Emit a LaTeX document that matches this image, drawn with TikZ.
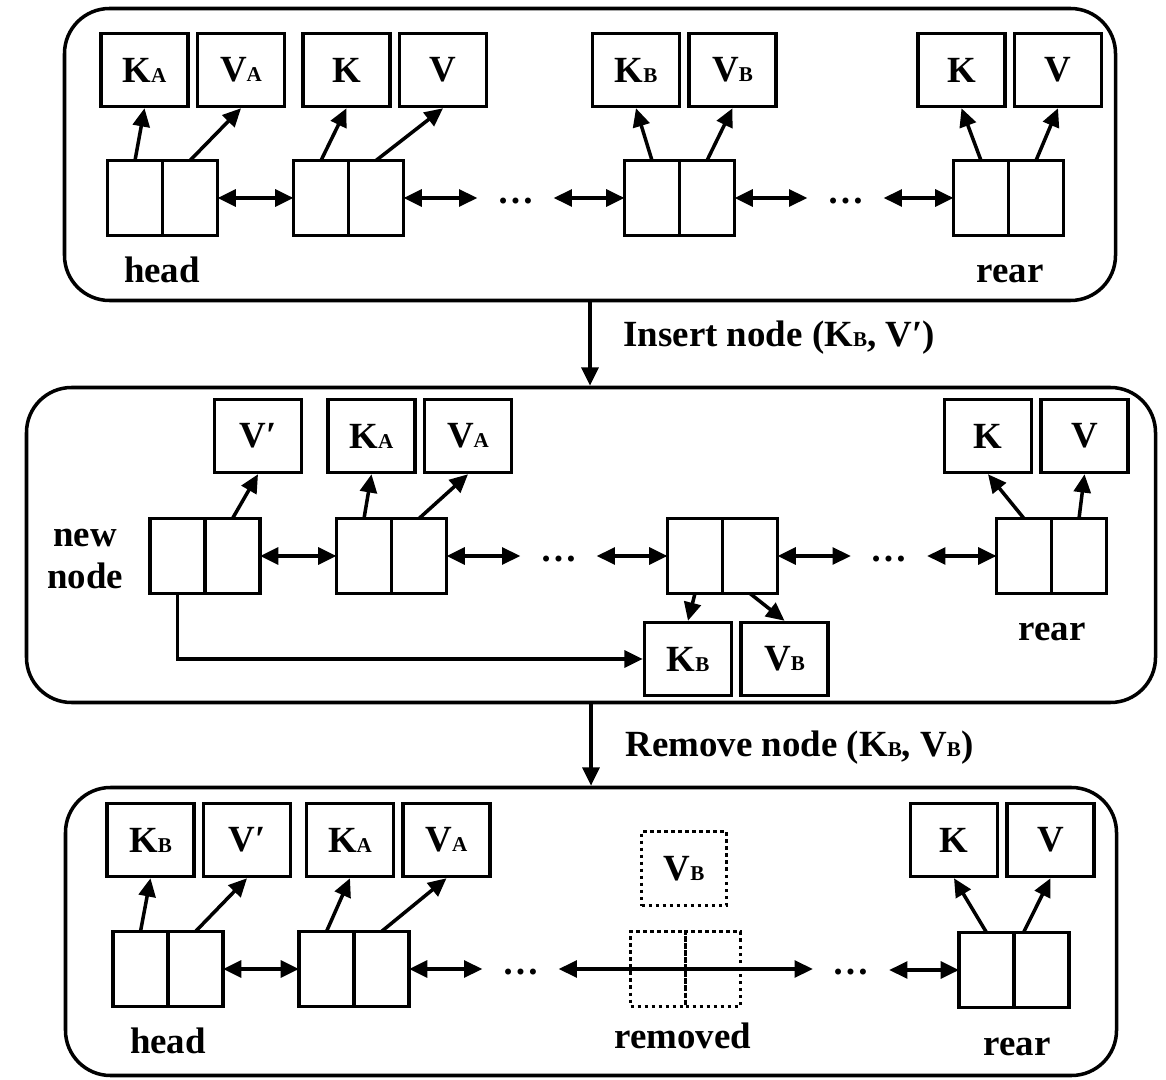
\documentclass[tikz,border=0pt]{standalone}
\usepackage{fontspec}
\setmainfont{Liberation Serif}
\usetikzlibrary{positioning,arrows.meta}
\newcommand{\kvsub}[1]{{\fontsize{6}{6}\selectfont #1}}

\begin{document}
\begin{tikzpicture}[font=\fontsize{10.5}{12.2}\selectfont\bfseries,
  cell/.style={draw,line width=1pt,minimum width=0.55cm,minimum height=0.75cm,inner sep=0pt,outer sep=0pt},
  kvbox/.style={draw,line width=1pt,minimum width=0.87cm,minimum height=0.73cm,inner sep=0pt},
  gone/.style={dash pattern=on 1pt off 1pt},
  panel/.style={draw,line width=1pt,rounded corners=0.45cm,inner sep=0pt},
  dotsnode/.style={minimum width=0.75cm,inner sep=0pt},
  link/.style={line width=1pt,{Triangle[length=5.2pt,width=4.8pt]}-{Triangle[length=5.2pt,width=4.8pt]}},
  ptr/.style={line width=1pt,-{Triangle[length=5.2pt,width=4.8pt]}}]
\useasboundingbox (0,0) rectangle (11.66,10.79);

% list before insert
\node[panel,minimum width=10.51cm,minimum height=2.92cm] (lst1) at (5.90,9.245) {};
\node[kvbox] (ka1) at (1.445,10.09) {K\kvsub{A}};
\node[kvbox,right=0.06cm of ka1] (va1) {V\kvsub{A}};
\node[kvbox] (k1) at (3.465,10.09) {K};
\node[kvbox,right=0.06cm of k1] (v1) {V};
\node[kvbox] (kb1) at (6.36,10.09) {K\kvsub{B}};
\node[kvbox,right=0.06cm of kb1] (vb1) {V\kvsub{B}};
\node[kvbox] (k2) at (9.615,10.09) {K};
\node[kvbox,right=0.06cm of k2] (v2) {V};
\node[cell] (n1a) at (1.35,8.81) {};
\node[cell,right=0pt of n1a] (n1b) {};
\node[cell] (n2a) at (3.21,8.81) {};
\node[cell,right=0pt of n2a] (n2b) {};
\node[cell] (n3a) at (6.52,8.81) {};
\node[cell,right=0pt of n3a] (n3b) {};
\node[cell] (n4a) at (9.81,8.81) {};
\node[cell,right=0pt of n4a] (n4b) {};
\node[dotsnode] (d1) at (5.155,8.78) {…};
\node[dotsnode] (d2) at (8.455,8.78) {…};
\node[anchor=base] (head1) at (1.62,7.96) {head};
\node[anchor=base] (rear1) at (10.10,7.96) {rear};
\draw[ptr] (n1a.north) -- (ka1.south);
\draw[ptr] (n1b.north) -- (va1.south);
\draw[ptr] (n2a.north) -- (k1.south);
\draw[ptr] (n2b.north) -- (v1.south);
\draw[ptr] (n3a.north) -- (kb1.south);
\draw[ptr] (n3b.north) -- (vb1.south);
\draw[ptr] (n4a.north) -- (k2.south);
\draw[ptr] (n4b.north) -- (v2.south);
\draw[link] (n1b) -- (n2a);
\draw[link] (n2b.east) -- (n2b.east -| d1.west);
\draw[link] (n3a.west -| d1.east) -- (n3a.west);
\draw[link] (n3b.east) -- (n3b.east -| d2.west);
\draw[link] (n4a.west -| d2.east) -- (n4a.west);

% list after insert
\node[panel,minimum width=11.29cm,minimum height=3.15cm] (lst2) at (5.91,5.34) {};
\draw[ptr] (lst1.south) -- (lst1.south |- lst2.north);
\node[anchor=base west] (ins) at (6.11,7.32) {Insert node (K\kvsub{B}, V′)};
\node[kvbox] (vp2) at (2.58,6.43) {V′};
\node[kvbox] (ka2) at (3.715,6.43) {K\kvsub{A}};
\node[kvbox,right=0.06cm of ka2] (va2) {V\kvsub{A}};
\node[kvbox] (k3) at (9.88,6.43) {K};
\node[kvbox,right=0.06cm of k3] (v3) {V};
\node[cell] (n5a) at (1.775,5.23) {};
\node[cell,right=0pt of n5a] (n5b) {};
\node[cell] (n6a) at (3.64,5.23) {};
\node[cell,right=0pt of n6a] (n6b) {};
\node[cell] (n7a) at (6.95,5.23) {};
\node[cell,right=0pt of n7a] (n7b) {};
\node[cell] (n8a) at (10.24,5.23) {};
\node[cell,right=0pt of n8a] (n8b) {};
\node[dotsnode] (d3) at (5.585,5.20) {…};
\node[dotsnode] (d4) at (8.89,5.20) {…};
\node[kvbox] (kb2) at (6.88,4.20) {K\kvsub{B}};
\node[kvbox,right=0.06cm of kb2] (vb2) {V\kvsub{B}};
\node[align=center] (newlbl) at (0.85,5.20) {new\\node};
\node[anchor=base] (rear2) at (10.52,4.39) {rear};
\draw[ptr] (n5b.north) -- (vp2.south);
\draw[ptr] (n6a.north) -- (ka2.south);
\draw[ptr] (n6b.north) -- (va2.south);
\draw[ptr] (n8a.north) -- (k3.south);
\draw[ptr] (n8b.north) -- (v3.south);
\draw[ptr] (n7a.south) -- (kb2.north);
\draw[ptr] (n7b.south) -- (vb2.north);
\draw[ptr] (n5a.south) |- (kb2.west);
\draw[link] (n5b) -- (n6a);
\draw[link] (n6b.east) -- (n6b.east -| d3.west);
\draw[link] (n7a.west -| d3.east) -- (n7a.west);
\draw[link] (n7b.east) -- (n7b.east -| d4.west);
\draw[link] (n8a.west -| d4.east) -- (n8a.west);

% list after remove
\node[panel,minimum width=10.51cm,minimum height=2.88cm] (lst3) at (5.91,1.475) {};
\draw[ptr] (lst2.south) -- (lst2.south |- lst3.north);
\node[anchor=base west] (rmv) at (6.13,3.23) {Remove node (K\kvsub{B}, V\kvsub{B})};
\node[kvbox] (kb3) at (1.505,2.39) {K\kvsub{B}};
\node[kvbox,right=0.06cm of kb3] (vp3) {V′};
\node[kvbox] (ka3) at (3.50,2.39) {K\kvsub{A}};
\node[kvbox,right=0.06cm of ka3] (va3) {V\kvsub{A}};
\node[kvbox] (k4) at (9.54,2.39) {K};
\node[kvbox,right=0.06cm of k4] (v4) {V};
\node[kvbox,gone,minimum width=0.85cm,minimum height=0.74cm] (gvb) at (6.84,2.105) {V\kvsub{B}};
\node[cell] (n9a) at (1.405,1.10) {};
\node[cell,right=0pt of n9a] (n9b) {};
\node[cell] (n10a) at (3.265,1.10) {};
\node[cell,right=0pt of n10a] (n10b) {};
\node[cell,gone] (rma) at (6.58,1.10) {};
\node[cell,gone,right=0pt of rma] (rmb) {};
\node[cell] (n11a) at (9.865,1.09) {};
\node[cell,right=0pt of n11a] (n11b) {};
\node[dotsnode] (d5) at (5.205,1.07) {…};
\node[dotsnode] (d6) at (8.51,1.07) {…};
\node[anchor=base] (head3) at (1.68,0.26) {head};
\node[anchor=base] (rmlbl) at (6.83,0.31) {removed};
\node[anchor=base] (rear3) at (10.17,0.24) {rear};
\draw[ptr] (n9a.north) -- (kb3.south);
\draw[ptr] (n9b.north) -- (vp3.south);
\draw[ptr] (n10a.north) -- (ka3.south);
\draw[ptr] (n10b.north) -- (va3.south);
\draw[ptr] (n11a.north) -- (k4.south);
\draw[ptr] ([xshift=-0.18cm]n11b.north) -- (v4.south);
\draw[link] (n9b) -- (n10a);
\draw[link] (n10b.east) -- (n10b.east -| d5.west);
\draw[link] (rma.west -| d5.east) -- (rmb.east -| d6.west);
\draw[link] (n11a.west -| d6.east) -- (n11a.west);
\end{tikzpicture}
\end{document}
